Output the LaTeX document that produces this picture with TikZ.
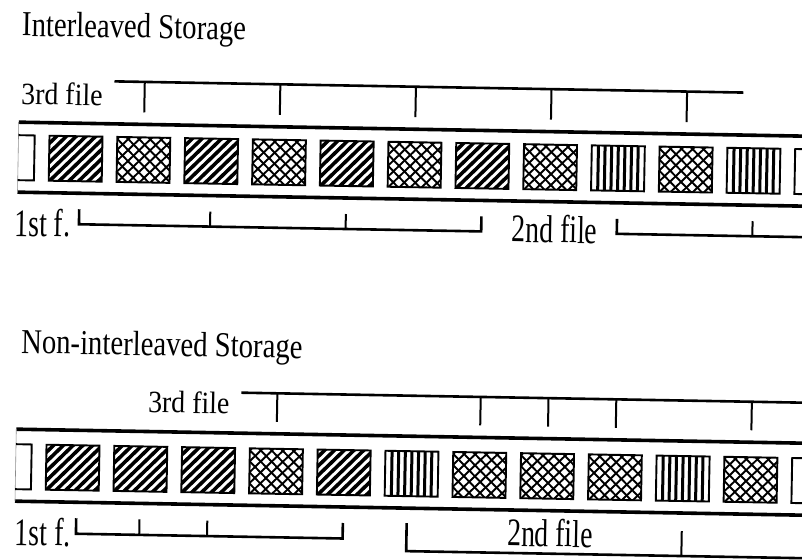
\documentclass[tikz,border=0pt]{standalone}
\usepackage{fontspec}
\setmainfont{Liberation Serif}
\usepackage{graphicx}
\newcommand{\sxt}[2]{\scalebox{#1}[1]{#2}}
\tikzset{
  cell/.style={draw, line width=1.9pt, minimum width=53pt, minimum height=45pt, inner sep=0pt, outer sep=0pt, fill=white},
  cellE/.style={cell},
  cellH/.style={cell, path picture={\foreach \k in {-6,...,7}{\draw[line width=3.6pt] ([xshift=\k*9.6pt]path picture bounding box.south west) -- ++(60pt,60pt);}}},
  cellX/.style={cell, path picture={\foreach \k in {-5,...,10}{\draw[line width=1.9pt] ([xshift=\k*11pt]path picture bounding box.south west) -- ++(60pt,60pt); \draw[line width=1.9pt] ([xshift=\k*11pt]path picture bounding box.south west) -- ++(-60pt,60pt);}}},
  cellV/.style={cell, path picture={\foreach \k in {1,...,7}{\draw[line width=3pt] ([xshift=\k*6.625pt]path picture bounding box.south west) -- ++(0pt,60pt);}}},
  rail/.style={line width=3.6pt},
  brk/.style={line width=2.6pt},
  tck/.style={line width=2pt},
  railend/.style={line width=0.6pt, black!45},
  partial/.style={line width=1.9pt},
  txt/.style={anchor=base west, inner sep=0pt, outer sep=0pt},
  ttl/.style={txt, font=\fontsize{35}{40}\selectfont},
  lab3/.style={txt, font=\fontsize{31}{36}\selectfont},
  labB/.style={txt, font=\fontsize{39}{44}\selectfont},
}
\begin{document}
\begin{tikzpicture}[x=1pt,y=-1pt]
\useasboundingbox (0,0) rectangle (802,559);
\fill[white] (0,0) rectangle (802,559);
\clip (0,0) rectangle (802,559);
\begin{scope}[rotate around={-1.02:(401,280)}, transform shape]
% ---------- Interleaved ----------
\node[ttl] (title1) at (17.7,42.7) {\sxt{0.82}{Interleaved Storage}};
\node[lab3] (l3t) at (18,111) {\sxt{0.9}{3rd file}};
\node[labB] (l1t) at (14,243) {\sxt{0.71}{1st f.}};
\node[labB] (l2t) at (511,240) {\sxt{0.71}{2nd file}};
\draw[rail] (16,129) -- (840,129);
\draw[rail] (16,199) -- (840,199);
\draw[railend] (16,129) -- (16,199);
\draw[partial] (16,142) -- (32.2,142) -- (32.2,187) -- (16,187);
\foreach \p [count=\i] in {H,X,H,X,H,X,H,X,V,X,V,E}
  \node[cell\p] (t\i) at ({73.5+67.8*(\i-1)},164.5) {};
\coordinate (A3t) at (0,86.5);
\coordinate (B3t) at (0,117);
\coordinate (Tt) at (0,215);
\coordinate (Lt) at (0,230);
\draw[brk] (111,86.5) -- (740,86.5);
\foreach \j in {2,4,6,8,10}
  \draw[tck] (t\j |- A3t) -- (t\j |- B3t);
\draw[brk] ([xshift=4.5pt]t1 |- Tt) -- ([xshift=4.5pt]t1 |- Lt) -- (t7 |- Lt) -- (t7 |- Tt);
\foreach \j in {3,5}
  \draw[tck] (t\j |- Lt) -- (t\j |- Tt);
\draw[brk] (t9 |- Tt) -- (t9 |- Lt) -- (840,230);
\draw[tck] (t11 |- Lt) -- (t11 |- Tt);
% ---------- Non-interleaved ----------
\node[ttl] (title2) at (22.4,360) {\sxt{0.82}{Non-interleaved Storage}};
\node[lab3] (l3b) at (150.4,417) {\sxt{0.9}{3rd file}};
\node[labB] (l1b) at (19.7,552) {\sxt{0.71}{1st f.}};
\node[labB] (l2b) at (512,544) {\sxt{0.71}{2nd file}};
\draw[rail] (19,436) -- (840,436);
\draw[rail] (19,508) -- (840,508);
\draw[railend] (19,436) -- (19,508);
\draw[partial] (19,451) -- (34.7,451) -- (34.7,496) -- (19,496);
\foreach \p [count=\i] in {H,H,H,X,H,V,X,X,X,V,X,E}
  \node[cell\p] (b\i) at ({76+67.8*(\i-1)},473.5) {};
\coordinate (A3b) at (0,395.5);
\coordinate (B3b) at (0,424);
\coordinate (Tb) at (0,524);
\coordinate (Lb) at (0,539.5);
\coordinate (T2b) at (0,523);
\coordinate (K2b) at (0,526);
\coordinate (L2b) at (0,551);
\draw[brk] (243.5,395.5) -- (840,395.5);
\foreach \j in {4,7,8,9,11}
  \draw[tck] (b\j |- A3b) -- (b\j |- B3b);
\draw[brk] ([xshift=4.5pt]b1 |- Tb) -- ([xshift=4.5pt]b1 |- Lb) -- (b5 |- Lb) -- (b5 |- Tb);
\foreach \j in {2,3}
  \draw[tck] (b\j |- Lb) -- (b\j |- Tb);
\draw[brk] ([xshift=-4pt]b6 |- T2b) -- ([xshift=-4pt]b6 |- L2b) -- (840,551);
\draw[tck] (b10 |- L2b) -- (b10 |- K2b);
\end{scope}
\end{tikzpicture}
\end{document}
